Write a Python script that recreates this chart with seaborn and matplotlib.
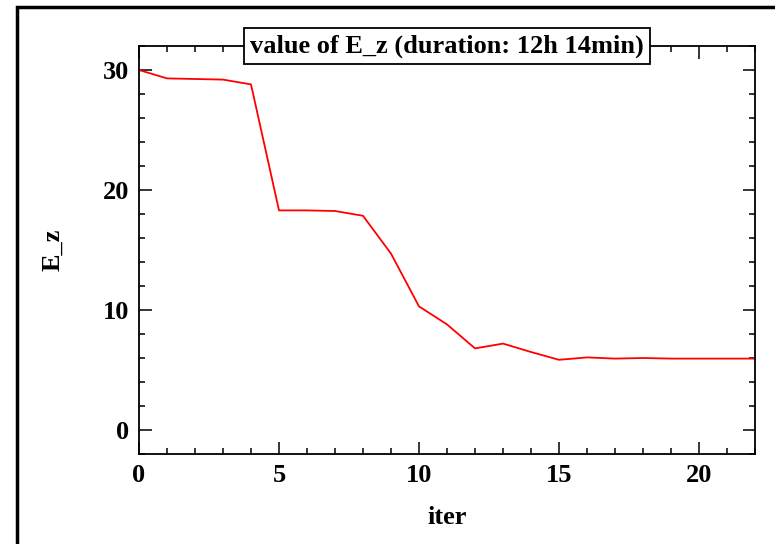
import numpy as np
import pandas as pd
import matplotlib
matplotlib.use("Agg")
import matplotlib.pyplot as plt
from matplotlib.patches import Rectangle
from matplotlib.ticker import MultipleLocator
import seaborn as sns

# valores
iters = list(range(23))
e_z = [30.0, 29.3, 29.25, 29.2, 28.8, 18.3, 18.3, 18.25, 17.85, 14.7,
       10.3, 8.8, 6.8, 7.2, 6.5, 5.85, 6.05, 5.95, 6.0, 5.95, 5.95, 5.95, 5.95]

df = pd.DataFrame({"iter": iters, "E_z": e_z})

sns.set_style("ticks")
plt.rcParams['font.family'] = ['Liberation Serif', 'DejaVu Serif']
plt.rcParams['font.weight'] = 'bold'
plt.rcParams['text.color'] = 'black'
plt.rcParams['axes.labelcolor'] = 'black'
plt.rcParams['xtick.color'] = 'black'
plt.rcParams['ytick.color'] = 'black'

fig = plt.figure(figsize=(7.75, 5.44), dpi=100)
ax = fig.add_axes([139 / 775, 1 - 454 / 544, (755 - 139) / 775, (454 - 46) / 544])

sns.lineplot(data=df, x="iter", y="E_z", ax=ax, color="red", linewidth=1.3)

ax.set_xlim(0, 22)
ax.set_ylim(-2, 32)
ax.xaxis.set_major_locator(MultipleLocator(5))
ax.xaxis.set_minor_locator(MultipleLocator(1))
ax.yaxis.set_major_locator(MultipleLocator(10))
ax.yaxis.set_minor_locator(MultipleLocator(2))
ax.tick_params(which='both', direction='in', top=True, right=True, width=1.1,
               colors='black', labelcolor='black')
ax.tick_params(which='major', length=9, labelsize=19, pad=7)
ax.tick_params(which='minor', length=4.5)
for lbl in ax.get_xticklabels() + ax.get_yticklabels():
    lbl.set_fontweight('bold')
for s in ax.spines.values():
    s.set_linewidth(1.3)
    s.set_color('black')

ax.set_xlabel('iter', fontsize=19, fontweight='bold', va='center', color='black')
ax.set_ylabel('E_z', fontsize=19, fontweight='bold', va='center', color='black')
ax.xaxis.set_label_coords(0.5, -(517 - 454) / 408)
ax.yaxis.set_label_coords((53 - 139) / 616, 0.5)

ax.text(0.5, 1.0, 'value of E_z (duration: 12h 14min)', transform=ax.transAxes,
        ha='center', va='center', fontsize=19, fontweight='bold', color='black', zorder=5,
        bbox=dict(boxstyle='square,pad=0.24', facecolor='white', edgecolor='black', linewidth=1.3))

# moldura externa
fig.patches.append(Rectangle((17 / 775, -0.1), 1.2, 1.1 - 7 / 544, transform=fig.transFigure,
                             fill=False, edgecolor='black', linewidth=2.5, figure=fig))

fig.savefig('out.png', dpi=100)
